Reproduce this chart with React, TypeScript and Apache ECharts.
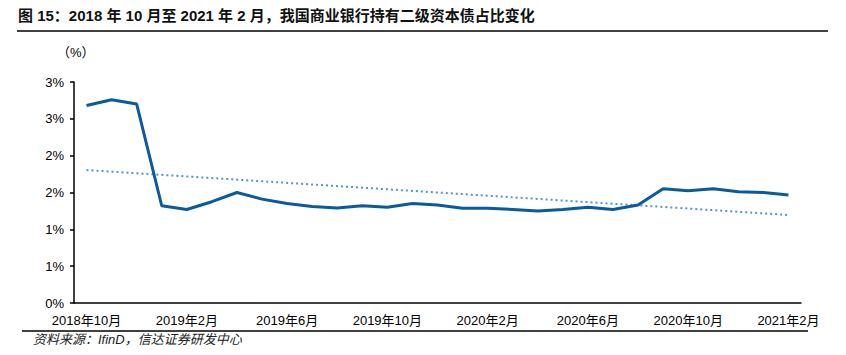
import React, { useEffect, useRef } from "react";
import * as echarts from "echarts";

const categories = [
  "2018年10月", "2018年11月", "2018年12月", "2019年1月", "2019年2月", "2019年3月",
  "2019年4月", "2019年5月", "2019年6月", "2019年7月", "2019年8月", "2019年9月",
  "2019年10月", "2019年11月", "2019年12月", "2020年1月", "2020年2月", "2020年3月",
  "2020年4月", "2020年5月", "2020年6月", "2020年7月", "2020年8月", "2020年9月",
  "2020年10月", "2020年11月", "2020年12月", "2021年1月", "2021年2月",
];

const shareValues = [
  2.68, 2.76, 2.70, 1.32, 1.27, 1.375, 1.50, 1.41, 1.35, 1.31, 1.29, 1.32,
  1.30, 1.35, 1.33, 1.285, 1.285, 1.27, 1.25, 1.27, 1.30, 1.27, 1.33, 1.55,
  1.525, 1.55, 1.51, 1.50, 1.466,
];

// linear trend line endpoints (first and last month)
const trendStart = 1.805;
const trendEnd = 1.195;

const yMin = 0;
const yMax = 3;
const yStep = 0.5;

const titleText = "图 15：2018 年 10 月至 2021 年 2 月，我国商业银行持有二级资本债占比变化";
const unitText = "（%）";
const sourceText = "资料来源：IfinD，信达证券研发中心";

export default function App() {
  const ref = useRef<HTMLDivElement>(null);

  useEffect(() => {
    if (!ref.current) return;
    const chart = echarts.init(ref.current, null, { renderer: "svg" });
    const font = '"Liberation Sans", Arial, "Noto Sans CJK SC", sans-serif';
    const trendData = categories.map((_, i) =>
      i === 0 ? trendStart : i === categories.length - 1 ? trendEnd : null
    );
    chart.setOption({
      animation: false,
      textStyle: { fontFamily: font },
      grid: { left: 74, right: 45, top: 82, bottom: 52, containLabel: false },
      xAxis: {
        type: "category",
        data: categories,
        boundaryGap: true,
        axisLine: { lineStyle: { color: "#000", width: 1.5 } },
        axisTick: { interval: 3, length: 4, lineStyle: { color: "#000", width: 1.5 } },
        axisLabel: {
          interval: 3,
          color: "#000",
          fontSize: 13,
          margin: 11,
          fontFamily: font,
        },
        splitLine: { show: false },
      },
      yAxis: {
        type: "value",
        min: yMin,
        max: yMax,
        interval: yStep,
        axisLine: { show: true, lineStyle: { color: "#000", width: 1.5 } },
        axisTick: { show: true, length: 4, lineStyle: { color: "#000", width: 1.5 } },
        axisLabel: {
          color: "#000",
          fontSize: 13,
          margin: 10,
          fontFamily: font,
          formatter: (v: number) => Math.round(v) + "%",
        },
        splitLine: { show: false },
      },
      series: [
        {
          type: "line",
          data: shareValues,
          symbol: "none",
          lineStyle: { color: "#0A5A9E", width: 3 },
          z: 3,
        },
        {
          type: "line",
          data: trendData,
          connectNulls: true,
          symbol: "none",
          lineStyle: { color: "#4F93D8", width: 2, type: [2, 3] },
          z: 2,
        },
      ],
      graphic: [
        {
          type: "text",
          left: 18,
          top: 8,
          style: {
            text: titleText,
            fontSize: 15,
            fontWeight: "bold",
            fill: "#111",
            fontFamily: font,
          },
        },
        {
          type: "line",
          shape: { x1: 17, y1: 31, x2: 828, y2: 31 },
          style: { stroke: "#000", lineWidth: 1.5 },
        },
        {
          type: "text",
          left: 57,
          top: 46,
          style: { text: unitText, fontSize: 13, fill: "#000", fontFamily: font },
        },
        {
          type: "line",
          shape: { x1: 22, y1: 331, x2: 808, y2: 331 },
          style: { stroke: "#000", lineWidth: 1.5 },
        },
        {
          type: "text",
          left: 33,
          top: 333,
          style: {
            text: sourceText,
            fontSize: 13,
            fontStyle: "italic",
            fill: "#222",
            fontFamily: font,
          },
        },
      ],
    });
    return () => chart.dispose();
  }, []);

  return (
    <div
      ref={ref}
      style={{ position: "absolute", left: 0, top: 0, width: 846, height: 355, background: "#fff" }}
    />
  );
}
